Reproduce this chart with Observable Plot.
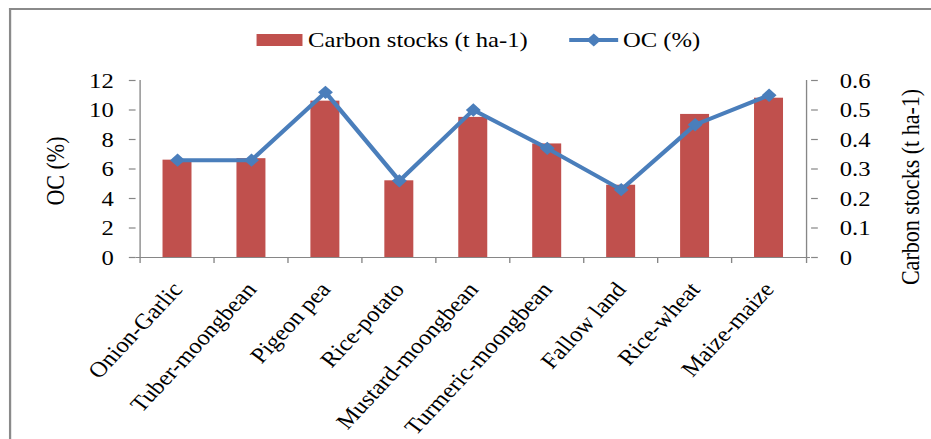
<!DOCTYPE html>
<html>
<head>
<meta charset="utf-8">
<script src="https://cdn.jsdelivr.net/npm/d3@7"></script>
<script src="https://cdn.jsdelivr.net/npm/@observablehq/plot@0.6"></script>
<style>
html,body{margin:0;padding:0;background:#fff;overflow:hidden;width:931px;height:439px}
#wrap{position:relative;width:831px;height:439px;transform:scaleX(1.1203);transform-origin:0 0;font-family:"Liberation Serif","Times New Roman",serif;color:#000}
#border{position:absolute;left:8px;top:8px;right:-20px;bottom:-20px;border-left:2px solid #8a8a8a;border-top:2px solid #8a8a8a;pointer-events:none}
#chart{position:absolute;left:0;top:0}
.leg{position:absolute;font-size:22px;line-height:24px;top:28px;white-space:nowrap}
.sw{position:absolute;top:34px;left:228.5px;width:41px;height:12px;background:#C0504D}
.lsw{position:absolute;top:31px;left:508px;width:44px;height:18px}
</style>
</head>
<body>
<div id="wrap">
  <div id="chart"></div>
  <div id="border"></div>
  <div class="sw"></div>
  <div class="leg" id="leg1" style="left:275px"></div>
  <svg class="lsw" viewBox="0 0 44 18"><line x1="0" y1="9" x2="44" y2="9" stroke="#4A7EBB" stroke-width="4"/><path d="M22,2.5L28.5,9L22,15.5L15.5,9Z" fill="#4A7EBB"/></svg>
  <div class="leg" id="leg2" style="left:556px"></div>
</div>
<script>
const categories = ["Onion-Garlic","Tuber-moongbean","Pigeon pea","Rice-potato","Mustard-moongbean","Turmeric-moongbean","Fallow land","Rice-wheat","Maize-maize"];
const carbonStocks = [6.6, 6.7, 10.6, 5.2, 9.5, 7.7, 4.9, 9.7, 10.8];
const ocPercent = [0.33, 0.33, 0.56, 0.26, 0.50, 0.37, 0.23, 0.45, 0.55];
const leftTicks = [0, 2, 4, 6, 8, 10, 12];
const rightTicks = [0, 0.1, 0.2, 0.3, 0.4, 0.5, 0.6];
const seriesNames = ["Carbon stocks (t ha-1)", "OC (%)"];
const leftAxisTitle = "OC (%)";
const rightAxisTitle = "Carbon stocks (t ha-1)";

document.getElementById("leg1").textContent = seriesNames[0];
document.getElementById("leg2").textContent = seriesNames[1];

const W = 831, H = 439, mL = 121, mR = 108, mT = 80, mB = 182;
const step = (W - mL - mR) / categories.length;
const ratio = leftTicks[leftTicks.length - 1] / rightTicks[rightTicks.length - 1];
const rows = categories.map((c, i) => ({category: c, carbon: carbonStocks[i], oc: ocPercent[i]}));
const axisGray = "#868686";

const diamond = {
  draw(context, size) {
    const r = Math.sqrt(size) * 0.62625;
    context.moveTo(0, -r); context.lineTo(r, 0); context.lineTo(0, r); context.lineTo(-r, 0); context.closePath();
  }
};

const chart = Plot.plot({
  width: W, height: H,
  marginLeft: mL, marginRight: mR, marginTop: mT, marginBottom: mB,
  style: {fontFamily: '"Liberation Serif","Times New Roman",serif', fontSize: "22px", color: "#000", background: "transparent", overflow: "visible"},
  x: {domain: categories, padding: 0},
  y: {domain: [0, 12]},
  marks: [
    Plot.barY(rows, {x: "category", y: "carbon", fill: "#C0504D", insetLeft: step * 0.3, insetRight: step * 0.3}),
    Plot.ruleY([0], {stroke: axisGray, strokeWidth: 1.2}),
    Plot.ruleX(categories, {x: d => d, dx: -step / 2, y1: 0, y2: 0, insetBottom: -6, stroke: axisGray, strokeWidth: 1.2}),
    Plot.ruleX([categories[categories.length - 1]], {x: d => d, dx: step / 2, y1: 0, y2: 0, insetBottom: -6, stroke: axisGray, strokeWidth: 1.2}),
    Plot.ruleX([categories[0]], {x: d => d, dx: -step / 2, y1: 0, y2: 12, stroke: axisGray, strokeWidth: 1.2}),
    Plot.ruleX([categories[categories.length - 1]], {x: d => d, dx: step / 2, y1: 0, y2: 12, stroke: axisGray, strokeWidth: 1.2}),
    Plot.axisY({ticks: leftTicks, tickSize: 6, tickPadding: 14, stroke: axisGray, fill: "#000", strokeWidth: 1.2, label: null, tickFormat: d => String(d)}),
    Plot.axisY({anchor: "right", ticks: rightTicks.map(v => v * ratio), tickSize: 6, tickPadding: 20, stroke: axisGray, fill: "#000", strokeWidth: 1.2, label: null,
      tickFormat: d => { const v = d / ratio; return v === 0 ? "0" : v.toFixed(1); }}),
    Plot.axisX({tickRotate: -50, tickSize: 0, tickPadding: 28, fill: "#000", label: null}),
    Plot.line(rows, {x: "category", y: d => d.oc * ratio, stroke: "#4A7EBB", strokeWidth: 4}),
    Plot.dot(rows, {x: "category", y: d => d.oc * ratio, symbol: diamond, r: 6, fill: "#4A7EBB", stroke: "none"}),
    Plot.text([leftAxisTitle], {text: d => d, frameAnchor: "left", textAnchor: "middle", dx: -71, dy: 2, rotate: -90, fill: "#000"}),
    Plot.text([rightAxisTitle], {text: d => d, frameAnchor: "right", textAnchor: "middle", dx: 90, dy: 18, rotate: -90, fill: "#000"})
  ]
});
document.getElementById("chart").appendChild(chart);
</script>
</body>
</html>
